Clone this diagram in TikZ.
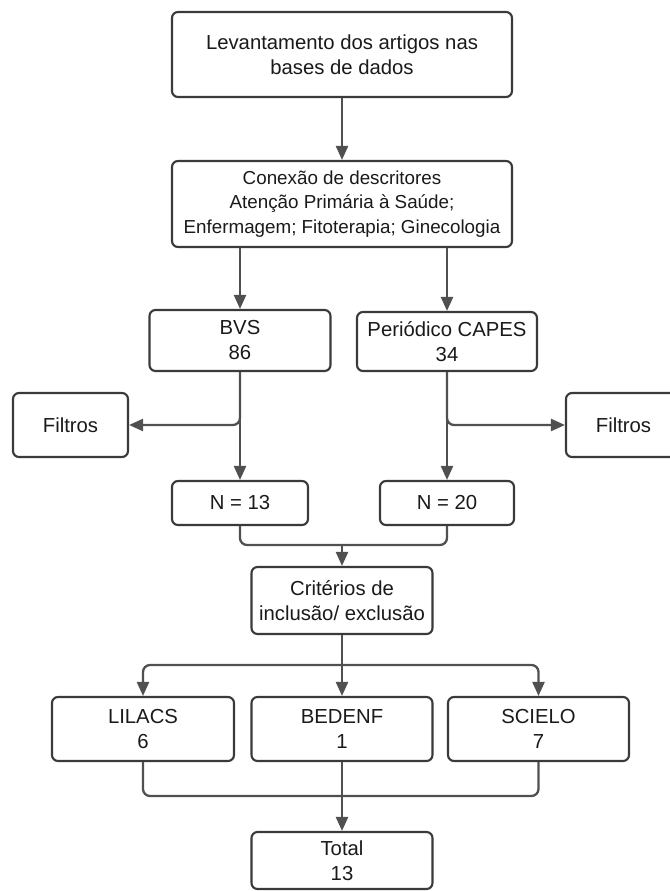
\documentclass[tikz,border=0pt]{standalone}
\usepackage{fontspec}
\setmainfont{Liberation Sans}
\usetikzlibrary{arrows.meta}
\definecolor{boxline}{HTML}{3A3A3A}
\definecolor{connc}{HTML}{505050}
\definecolor{txt}{HTML}{1A1A1A}
\begin{document}
\begin{tikzpicture}[x=1pt,y=-1pt,
  box/.style={draw=boxline, line width=2.1pt, rounded corners=6pt, fill=white, align=center, inner sep=0pt, font=\fontsize{20.3}{25}\selectfont, text=txt},
  smalltext/.style={font=\fontsize{18.8}{24.5}\selectfont},
  conn/.style={draw=connc, line width=2.3pt, rounded corners=7pt},
  arr/.style={conn, -{Triangle[width=12pt,length=14pt]}}]
\useasboundingbox (0,0) rectangle (669,891);
\node[box, minimum width=340pt, minimum height=85pt] (lev) at (342,54.5) {Levantamento dos artigos nas\\bases de dados};
\node[box, smalltext, minimum width=340pt, minimum height=86pt] (con) at (342,204) {Conexão de descritores\\Atenção Primária à Saúde;\\Enfermagem; Fitoterapia; Ginecologia};
\node[box, minimum width=181pt, minimum height=61pt] (bvs) at (240,340.5) {BVS\\86};
\node[box, minimum width=180pt, minimum height=59pt] (cap) at (447,341.5) {Periódico CAPES\\34};
\node[box, minimum width=115pt, minimum height=64pt] (fil) at (70.5,425) {Filtros};
\node[box, minimum width=115pt, minimum height=64pt] (fir) at (623.5,425) {Filtros};
\node[box, minimum width=136pt, minimum height=44pt] (n13) at (240,503) {N = 13};
\node[box, minimum width=134pt, minimum height=44pt] (n20) at (447,503) {N = 20};
\node[box, minimum width=181pt, minimum height=67pt] (crit) at (342,600.5) {Critérios de\\inclusão/ exclusão};
\node[box, minimum width=182pt, minimum height=64pt] (lil) at (143,729) {LILACS\\6};
\node[box, minimum width=181pt, minimum height=64pt] (bed) at (342,729) {BEDENF\\1};
\node[box, minimum width=181pt, minimum height=64pt] (sci) at (538.5,729) {SCIELO\\7};
\node[box, minimum width=181pt, minimum height=57pt] (tot) at (342,860.5) {Total\\13};
\coordinate (merge) at (342,545);
\coordinate (split) at (342,665);
\coordinate (join) at (342,796);
\draw[arr] (lev) -- (con);
\draw[arr] (con.south -| bvs.north) -- (bvs.north);
\draw[arr] (con.south -| cap.north) -- (cap.north);
\draw[arr] (bvs.south) -- (n13.north);
\draw[arr] (bvs.south) |- (fil.east);
\draw[arr] (cap.south) -- (n20.north);
\draw[arr] (cap.south) |- (fir.west);
\draw[conn] (n13.south) |- (merge);
\draw[conn] (n20.south) |- (merge);
\draw[arr] (merge) -- (crit.north);
\draw[conn] (crit.south) -- (split);
\draw[arr] (split) -| (lil.north);
\draw[arr] (split) -- (bed.north);
\draw[arr] (split) -| (sci.north);
\draw[conn] (lil.south) |- (join);
\draw[conn] (sci.south) |- (join);
\draw[conn] (bed.south) -- (join);
\draw[arr] (join) -- (tot.north);
\end{tikzpicture}
\end{document}
